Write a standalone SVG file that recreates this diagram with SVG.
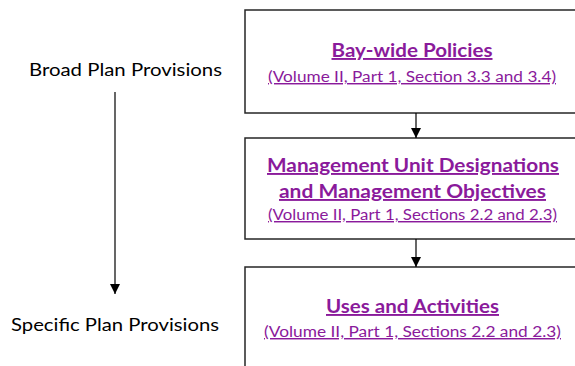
<svg xmlns="http://www.w3.org/2000/svg" width="575" height="366" viewBox="0 0 575 366">
<defs>
<marker id="ah" viewBox="0 0 10 10" refX="10" refY="5" markerWidth="10" markerHeight="10" markerUnits="userSpaceOnUse" orient="auto">
<path d="M0,0 L10,5 L0,10 z" fill="#000"/>
</marker>
<style>
.box{fill:#fff;stroke:#262626;stroke-width:1.5}
.t{font-family:Lato,"Open Sans","Liberation Sans",sans-serif;fill:#8A1A9B;text-decoration:underline;text-anchor:middle}
.b{font-weight:bold;font-size:19px}
.s{font-size:14.5px}
.l{font-family:Lato,"Open Sans","Liberation Sans",sans-serif;font-size:17px;fill:#000}
.c{stroke:#000;stroke-width:1.2;fill:none;marker-end:url(#ah)}
</style>
</defs>
<rect width="575" height="366" fill="#fff"/>
<g id="broad"><text class="l" x="29" y="76" textLength="193" lengthAdjust="spacingAndGlyphs">Broad Plan Provisions</text></g>
<g id="specific"><text class="l" x="11" y="331" textLength="208" lengthAdjust="spacingAndGlyphs">Specific Plan Provisions</text></g>
<g id="n1">
<rect class="box" x="245" y="10" width="340" height="103"/>
<text class="t b" x="412" y="57" textLength="161" lengthAdjust="spacingAndGlyphs">Bay-wide Policies</text>
<text class="t s" x="412" y="82" textLength="288" lengthAdjust="spacingAndGlyphs">(Volume II, Part 1, Section 3.3 and 3.4)</text>
</g>
<g id="n2">
<rect class="box" x="245" y="138" width="340" height="101"/>
<text class="t b" x="413" y="172" textLength="292" lengthAdjust="spacingAndGlyphs">Management Unit Designations</text>
<text class="t b" x="412.5" y="198" textLength="267" lengthAdjust="spacingAndGlyphs">and Management Objectives</text>
<text class="t s" x="412.5" y="220" textLength="289" lengthAdjust="spacingAndGlyphs">(Volume II, Part 1, Sections 2.2 and 2.3)</text>
</g>
<g id="n3">
<rect class="box" x="245" y="267" width="340" height="110"/>
<text class="t b" x="412.5" y="313" textLength="173" lengthAdjust="spacingAndGlyphs">Uses and Activities</text>
<text class="t s" x="412.5" y="337" textLength="297" lengthAdjust="spacingAndGlyphs">(Volume II, Part 1, Sections 2.2 and 2.3)</text>
</g>
<g id="connectors">
<line class="c" x1="115" y1="92" x2="115" y2="294"/>
<line class="c" x1="416" y1="113" x2="416" y2="138"/>
<line class="c" x1="416" y1="239" x2="416" y2="267"/>
</g>
</svg>
